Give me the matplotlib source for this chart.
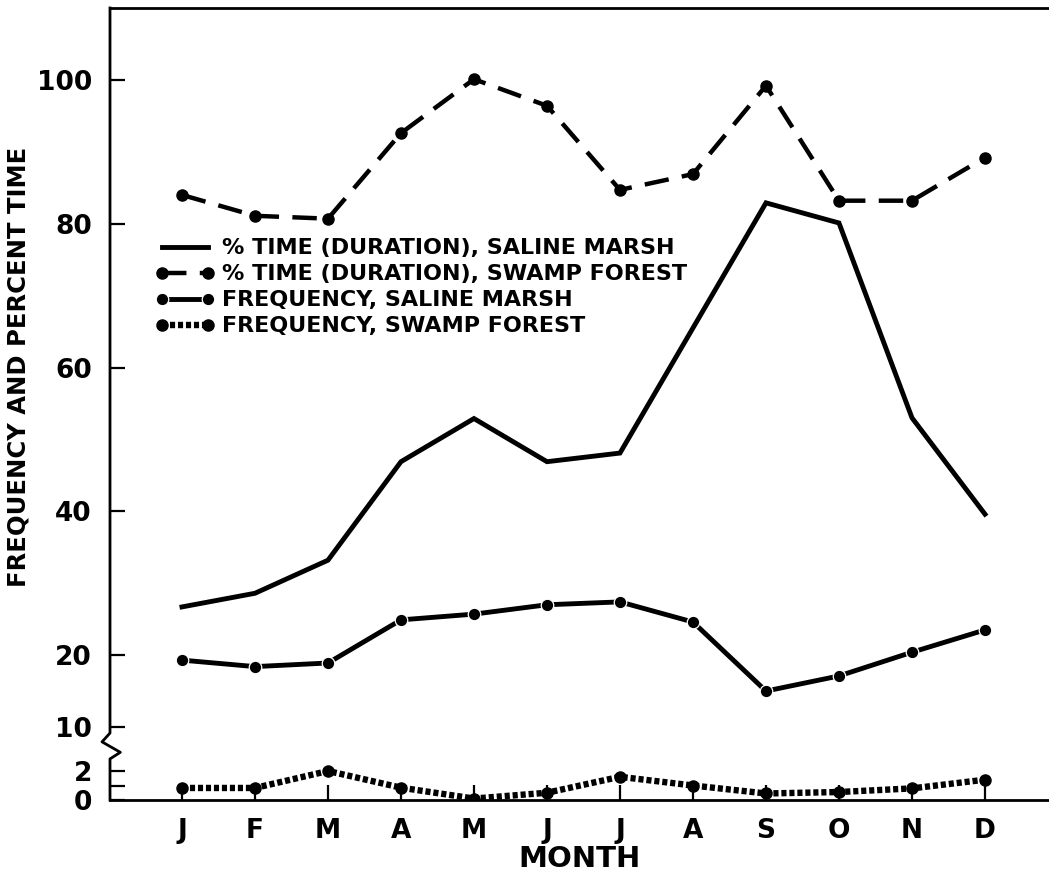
import numpy as np
import matplotlib.pyplot as plt

plt.rcParams['font.family'] = ['DejaVu Sans']
plt.rcParams['font.weight'] = 'bold'

# data
months = ['J', 'F', 'M', 'A', 'M', 'J', 'J', 'A', 'S', 'O', 'N', 'D']
dur_saline = [26.7, 28.6, 33.2, 46.9, 52.9, 46.9, 48.1, 65.5, 82.9, 80.1, 53.0, 39.6]
dur_swamp = [84.0, 81.1, 80.7, 92.6, 100.1, 96.4, 84.7, 86.9, 99.2, 83.2, 83.2, 89.2]
freq_saline = [19.3, 18.4, 18.9, 24.9, 25.7, 27.0, 27.4, 24.6, 15.0, 17.1, 20.4, 23.5]
freq_swamp = [0.83, 0.83, 2.0, 0.85, 0.1, 0.5, 1.6, 1.0, 0.45, 0.55, 0.8, 1.4]

yticks = [0, 1, 2, 10, 20, 40, 60, 80, 100]
ylabels = ['0', '', '2', '10', '20', '40', '60', '80', '100']

# broken y axis: 0-2 stretched, gap 2-10, then 10-110 linear
brk_v = [0, 2, 10, 110]
brk_u = [0, 29, 73, 792]

def fwd(v):
    return np.interp(v, brk_v, brk_u)

def inv(u):
    return np.interp(u, brk_u, brk_v)

fig = plt.figure(figsize=(10.49, 8.77), dpi=100)
ax = fig.add_axes([110/1049, 77/877, 1 - 110/1049, 792/877])
ax.set_yscale('function', functions=(fwd, inv))

x = np.arange(len(months))
lw = 3.5
ax.plot(x, dur_saline, color='black', lw=lw, solid_joinstyle='miter',
        label='% TIME (DURATION), SALINE MARSH')
ax.plot(x, dur_swamp, color='black', lw=3.2, ls=(0, (5.5, 3)), marker='o', ms=8,
        label='% TIME (DURATION), SWAMP FOREST')
ax.plot(x, freq_saline, color='black', lw=lw, marker='o', ms=9, mfc='black',
        mec='white', mew=0.9, label='FREQUENCY, SALINE MARSH')
ax.plot(x, freq_swamp, color='black', lw=4.6, ls=(0, (0.8, 0.45)), dash_capstyle='butt',
        marker='o', ms=8, label='FREQUENCY, SWAMP FOREST')

ax.set_xlim(-0.986, 11.877)
ax.set_ylim(0, 110)
ax.set_xticks(x)
ax.set_xticklabels(months, fontsize=19, fontweight='bold')
ax.set_yticks(yticks)
ax.set_yticklabels(ylabels, fontsize=19, fontweight='bold')
ax.tick_params(direction='in', length=11, width=1.6, color='black')
ax.tick_params(axis='x', pad=13)
ax.tick_params(axis='y', pad=13)

ax.spines['right'].set_visible(False)
ax.spines['left'].set_visible(False)
for s in ['top', 'bottom']:
    ax.spines[s].set_linewidth(2)

# left spine with zigzag break
zx = [0, 0, 0.011, -0.0085, 0, 0]
zy = [0, 4.2, 5.4, 7.3, 8.9, 110]
ax.plot(zx, zy, color='black', lw=2,
        transform=ax.get_yaxis_transform(), clip_on=False)

ax.set_xlabel('MONTH', fontsize=21, fontweight='bold', labelpad=1)
ax.set_ylabel('FREQUENCY AND PERCENT TIME', fontsize=17.5, fontweight='bold')
ax.yaxis.set_label_coords(-0.085, 0.547)

leg = ax.legend(loc='upper left', bbox_to_anchor=(0.048, 0.709), frameon=False,
                numpoints=2, handlelength=2.7, handletextpad=0.3, labelspacing=0.27,
                borderpad=0, borderaxespad=0,
                prop={'size': 16, 'weight': 'bold'})

fig.savefig('out.png', dpi=100)
